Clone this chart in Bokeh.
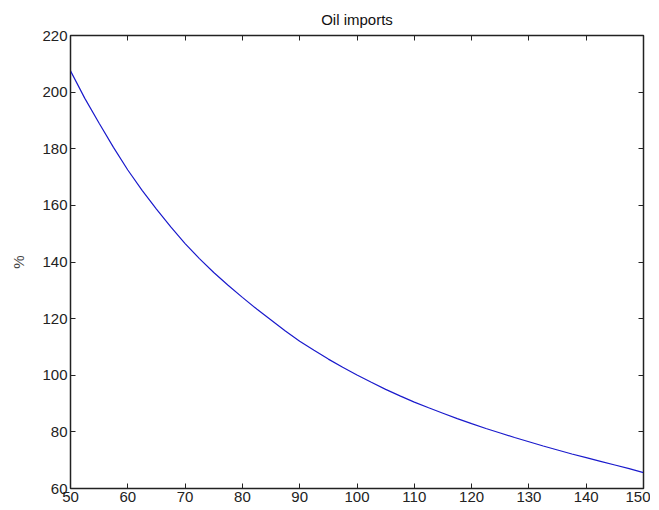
from bokeh.plotting import figure
from bokeh.models import Range1d, LinearAxis, FixedTicker
from bokeh.embed import file_html
from bokeh.resources import INLINE

# data
price = [50, 52.5, 55, 57.5, 60, 62.5, 65, 67.5, 70, 72.5, 75, 77.5, 80, 82.5,
         85, 87.5, 90, 92.5, 95, 97.5, 100, 102.5, 105, 107.5, 110, 112.5,
         115, 117.5, 120, 122.5, 125, 127.5, 130, 132.5, 135, 137.5, 140,
         142.5, 145, 147.5, 150]
imports_pct = [207.5, 197.8, 189.0, 180.5, 172.5, 165.3, 158.7, 152.4, 146.5, 141.2, 136.3,
               131.8, 127.5, 123.4, 119.5, 115.6, 112.0, 108.8, 105.7, 102.8, 100.1, 97.5, 95.0,
               92.7, 90.5, 88.5, 86.6, 84.7, 82.9, 81.2, 79.6, 78.0, 76.5, 75.0, 73.6,
               72.2, 70.9, 69.6, 68.3, 67.0, 65.6]
x_ticks = [50, 60, 70, 80, 90, 100, 110, 120, 130, 140, 150]
y_ticks = [60, 80, 100, 120, 140, 160, 180, 200, 220]

FONT = "Liberation Sans"

p = figure(width=650, height=508, output_backend="svg", toolbar_location=None,
           x_range=Range1d(50, 150), y_range=Range1d(60, 220),
           title="Oil imports",
           min_border_left=70, min_border_right=7, min_border_top=34, min_border_bottom=20)

p.title.align = "center"
p.title.text_font = FONT
p.title.text_font_size = "15px"
p.title.text_font_style = "normal"
p.title.text_color = "#111111"
p.title.standoff = 16

p.line(price, imports_pct, line_color="#1a1acc", line_width=1.2)

p.xgrid.visible = False
p.ygrid.visible = False
p.outline_line_color = "#222222"
p.outline_line_width = 1.5
p.background_fill_color = "white"
p.border_fill_color = "white"

def style(ax, ticks, labels=True, gap=0):
    ax.ticker = FixedTicker(ticks=ticks)
    ax.major_tick_in = 5
    ax.major_tick_out = 0
    ax.minor_tick_line_color = None
    ax.axis_line_color = "#222222"
    ax.major_tick_line_color = "#222222"
    ax.major_label_text_font = FONT
    ax.major_label_text_color = "#222222"
    ax.major_label_standoff = 3
    ax.major_label_text_font_size = "15px"
    if not labels:
        ax.major_label_overrides = {t: "" for t in ticks}
        ax.major_label_text_font_size = "1px"
        ax.major_label_text_color = None
        ax.major_label_standoff = gap

style(p.xaxis[0], x_ticks)
style(p.yaxis[0], y_ticks)
p.yaxis[0].axis_label = "%"
p.yaxis[0].axis_label_text_font = FONT
p.yaxis[0].axis_label_text_font_size = "15px"
p.yaxis[0].axis_label_text_font_style = "normal"
p.yaxis[0].axis_label_standoff = 12

top = LinearAxis()
style(top, x_ticks, labels=False, gap=4)
p.add_layout(top, "above")
right = LinearAxis()
style(right, y_ticks, labels=False)
p.add_layout(right, "right")

open("out.html", "w").write(file_html(p, INLINE))
